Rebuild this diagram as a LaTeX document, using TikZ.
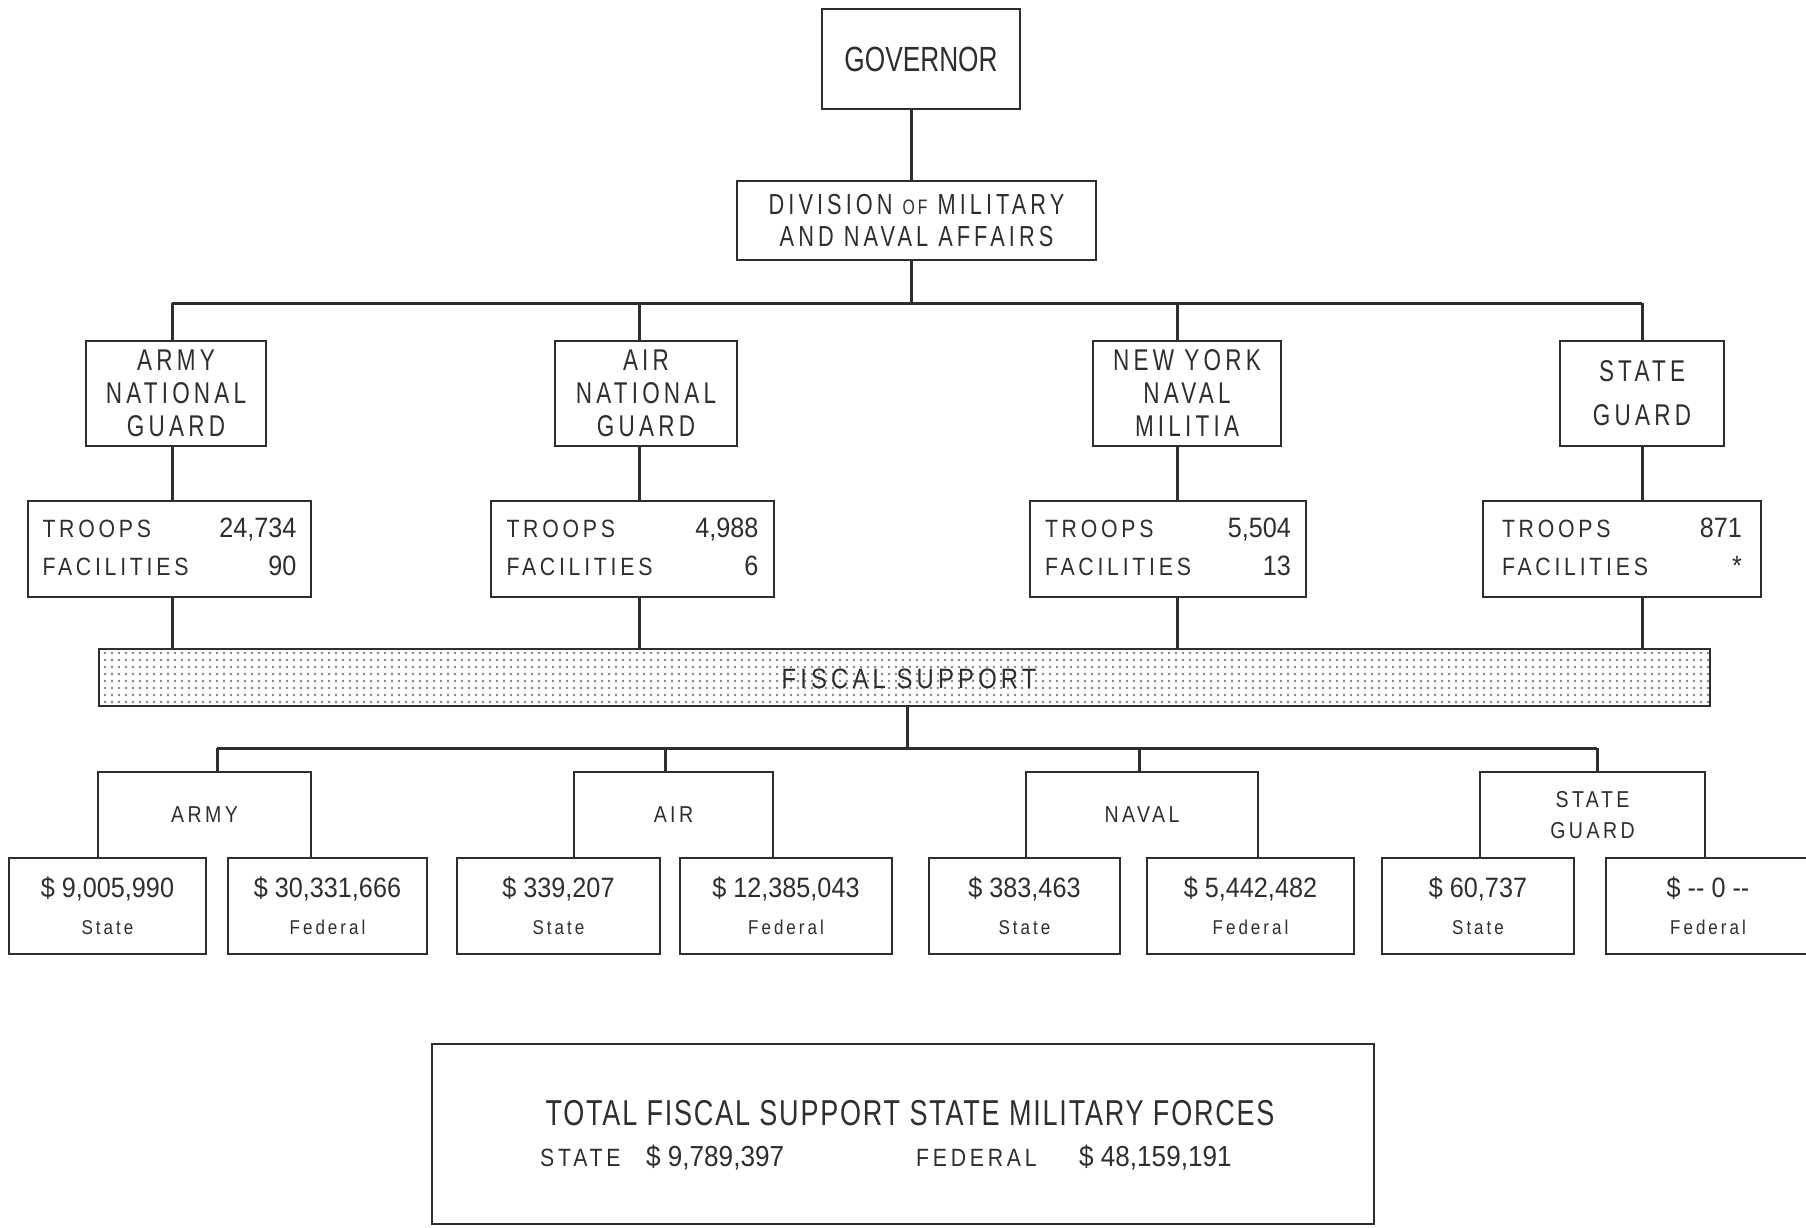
\documentclass[tikz,border=0pt]{standalone}
\usepackage{fontspec}
\setmainfont{Liberation Sans}
\newfontfamily\cond{Liberation Sans}[FakeStretch=0.75]
\newfontfamily\condwide{Liberation Sans}[FakeStretch=0.75,LetterSpace=14]
\newfontfamily\condsp{Liberation Sans}[FakeStretch=0.75,LetterSpace=5]
\newfontfamily\spaced{Liberation Sans}[FakeStretch=0.85,LetterSpace=15]
\newfontfamily\numf{Liberation Sans}[FakeStretch=0.9]
\usetikzlibrary{patterns}
\pgfdeclarepatternformonly{bigdots}{\pgfqpoint{-2pt}{-2pt}}{\pgfqpoint{2pt}{2pt}}{\pgfqpoint{7pt}{7pt}}{\pgfpathcircle{\pgfqpoint{0pt}{0pt}}{1.3pt}\pgfusepath{fill}}
\definecolor{ink}{gray}{0.18}
\tikzset{
  box/.style={draw=ink, line width=2pt, inner sep=0pt, align=center, text=ink},
  conn/.style={draw=ink, line width=3pt},
  lvltwo/.style={box, minimum height=105pt, font=\condwide\fontsize{30}{33}\selectfont},
  troopbox/.style={box, minimum height=96pt},
  valbox/.style={box, minimum height=96pt, font=\numf\fontsize{28}{37}\selectfont},
  catlbl/.style={inner sep=0pt, minimum height=86pt, align=center, text=ink, font=\spaced\fontsize{23}{31}\selectfont},
  plain/.style={inner sep=0pt, text=ink}
}
\newcommand{\lbl}[1]{{\spaced\fontsize{20}{37}\selectfont #1}}
\newcommand{\troops}[3]{{\fontsize{25}{38}\selectfont
  \begin{tabular*}{#1}{@{}l@{\extracolsep{\fill}}r@{}}
  {\spaced TROOPS} & {\numf\fontsize{28}{38}\selectfont #2}\\
  {\spaced FACILITIES} & {\numf\fontsize{28}{38}\selectfont #3}
  \end{tabular*}}}
\begin{document}
\begin{tikzpicture}[x=1pt,y=-1pt]
\useasboundingbox (0,0) rectangle (1806,1227);
% top
\node[box, minimum width=198pt, minimum height=100pt, font=\cond\fontsize{35}{40}\selectfont] (gov) at (921,59) {GOVERNOR};
\node[box, minimum width=359pt, minimum height=79pt, font=\condwide\fontsize{29}{32}\selectfont] (div) at (916.5,220.5)
  {DIVISION {\fontsize{21}{32}\selectfont OF} MILITARY\\AND NAVAL AFFAIRS};
% level two
\node[lvltwo, minimum width=180pt] (ang) at (176,393.5) {ARMY\\NATIONAL\\GUARD};
\node[lvltwo, minimum width=182pt] (airng) at (646,393.5) {AIR\\NATIONAL\\GUARD};
\node[lvltwo, minimum width=188pt] (nynm) at (1187,393.5) {NEW YORK\\NAVAL\\MILITIA};
\node[lvltwo, minimum width=164pt, font=\condwide\fontsize{30}{44}\selectfont] (sg) at (1642,393.5) {STATE\\GUARD};
% troops
\node[troopbox, minimum width=283pt] (tA) at (169.5,549) {\troops{254pt}{24,734}{90}};
\node[troopbox, minimum width=283pt] (tB) at (632.5,549) {\troops{252pt}{4,988}{6}};
\node[troopbox, minimum width=276pt] (tC) at (1168,549) {\troops{246pt}{5,504}{13}};
\node[troopbox, minimum width=278pt] (tD) at (1622,549) {\troops{240pt}{871}{*}};
% fiscal bar
\node[box, minimum width=1611pt, minimum height=57pt, pattern=bigdots, pattern color=black!50] (fis) at (904.5,677.5) {};
\node[plain, font=\spaced\fontsize{28}{32}\selectfont] (fistxt) at (909,679) {FISCAL SUPPORT};
% categories
\node[catlbl, minimum width=213pt] (catA) at (204.5,815) {ARMY};
\node[catlbl, minimum width=199pt] (catB) at (673.5,815) {AIR};
\node[catlbl, minimum width=232pt] (catC) at (1142,815) {NAVAL};
\node[catlbl, minimum width=225pt] (catD) at (1592.5,815) {STATE\\GUARD};
\foreach \c in {catA,catB,catC,catD}
  \draw[box] (\c.south west) -- (\c.north west) -- (\c.north east) -- (\c.south east);
% values
\node[valbox, minimum width=197pt] (v1) at (107.5,906) {\$ 9,005,990\\\lbl{State}};
\node[valbox, minimum width=199pt] (v2) at (327.5,906) {\$ 30,331,666\\\lbl{Federal}};
\node[valbox, minimum width=203pt] (v3) at (558.5,906) {\$ 339,207\\\lbl{State}};
\node[valbox, minimum width=212pt] (v4) at (786,906) {\$ 12,385,043\\\lbl{Federal}};
\node[valbox, minimum width=191pt] (v5) at (1024.5,906) {\$ 383,463\\\lbl{State}};
\node[valbox, minimum width=207pt] (v6) at (1250.5,906) {\$ 5,442,482\\\lbl{Federal}};
\node[valbox, minimum width=192pt] (v7) at (1478,906) {\$ 60,737\\\lbl{State}};
\node[valbox, minimum width=204pt] (v8) at (1708,906) {\$ -- 0 --\\\lbl{Federal}};
% total
\node[box, minimum width=942pt, minimum height=180pt] (tot) at (903,1134) {};
\node[plain, font=\condsp\fontsize{36}{40}\selectfont] (tottitle) at (910,1113) {TOTAL FISCAL SUPPORT STATE MILITARY FORCES};
\node[plain, anchor=west, font=\spaced\fontsize{25}{30}\selectfont] (stl) at (540,1158) {STATE};
\node[plain, anchor=west, font=\numf\fontsize{29}{30}\selectfont] (stv) at (646,1158) {\$ 9,789,397};
\node[plain, anchor=west, font=\spaced\fontsize{25}{30}\selectfont] (fel) at (916,1158) {FEDERAL};
\node[plain, anchor=west, font=\numf\fontsize{29}{30}\selectfont] (fev) at (1079,1158) {\$ 48,159,191};
% connectors
\coordinate (trunk) at (911,0);
\coordinate (bus1) at (911,303);
\coordinate (cA) at (172,0);
\coordinate (cB) at (639,0);
\coordinate (cC) at (1177,0);
\coordinate (cD) at (1642,0);
\draw[conn] (gov.south -| trunk) -- (div.north -| trunk);
\draw[conn] (div.south -| trunk) -- (bus1);
\draw[conn] (cA |- bus1) -- (cD |- bus1);
\foreach \c/\n/\t in {cA/ang/tA, cB/airng/tB, cC/nynm/tC, cD/sg/tD}{
  \draw[conn] (\c |- bus1) -- (\c |- \n.north);
  \draw[conn] (\c |- \n.south) -- (\c |- \t.north);
  \draw[conn] (\c |- \t.south) -- (\c |- fis.north);
}
\coordinate (fdrop) at (907,0);
\coordinate (bus2) at (907,748);
\coordinate (dA) at (217,0);
\coordinate (dB) at (665,0);
\coordinate (dC) at (1139,0);
\coordinate (dD) at (1597,0);
\draw[conn] (fdrop |- fis.south) -- (bus2);
\draw[conn] (dA |- bus2) -- (dD |- bus2);
\foreach \d/\k in {dA/catA, dB/catB, dC/catC, dD/catD}
  \draw[conn] (\d |- bus2) -- (\d |- \k.north);
\end{tikzpicture}
\end{document}
